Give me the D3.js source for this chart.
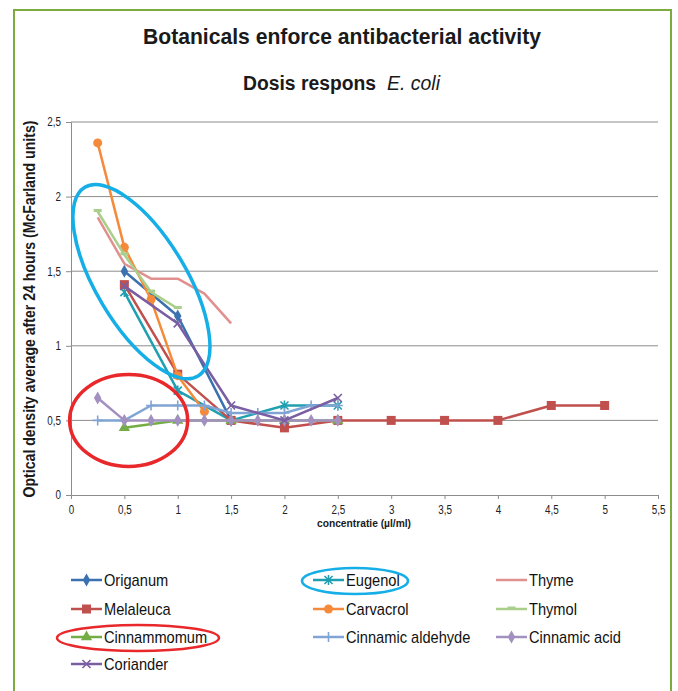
<!DOCTYPE html>
<html>
<head>
<meta charset="utf-8">
<script src="https://cdn.jsdelivr.net/npm/d3@7"></script>
<style>
  body { margin: 0; background: #fff; }
  svg { display: block; font-family: "Liberation Sans", Arial, sans-serif; }
</style>
</head>
<body>
<svg width="678" height="691"></svg>
<script>
// Chart values
const xTicks = [0, 0.5, 1, 1.5, 2, 2.5, 3, 3.5, 4, 4.5, 5, 5.5];
const yTicks = [0, 0.5, 1, 1.5, 2, 2.5];

const origanum = [[0.5, 1.5], [1, 1.2], [1.5, 0.5]];
const eugenol = [[0.5, 1.36], [1, 0.7], [1.5, 0.5], [2, 0.6], [2.5, 0.6]];
const thyme = [[0.25, 1.86], [0.5, 1.55], [0.75, 1.45], [1, 1.45], [1.25, 1.35], [1.5, 1.15]];
const melaleuca = [[0.5, 1.41], [1, 0.81], [1.5, 0.5], [2, 0.45], [2.5, 0.5], [3, 0.5], [3.5, 0.5], [4, 0.5], [4.5, 0.6], [5, 0.6]];
const carvacrol = [[0.25, 2.36], [0.5, 1.66], [0.75, 1.31], [1, 0.8], [1.25, 0.56]];
const thymol = [[0.25, 1.9], [0.5, 1.61], [0.75, 1.36], [1, 1.25]];
const cinnammomum = [[0.5, 0.45], [1, 0.5], [1.5, 0.5], [2, 0.5], [2.5, 0.5]];
const cinnamicAldehyde = [[0.25, 0.5], [0.5, 0.5], [0.75, 0.6], [1, 0.6], [1.25, 0.6], [1.5, 0.55], [1.75, 0.55], [2, 0.55], [2.25, 0.6], [2.5, 0.6]];
const cinnamicAcid = [[0.25, 0.65], [0.5, 0.5], [0.75, 0.5], [1, 0.5], [1.25, 0.5], [1.5, 0.5], [1.75, 0.5], [2, 0.5], [2.25, 0.5], [2.5, 0.5]];
const coriander = [[0.5, 1.4], [1, 1.15], [1.5, 0.6], [2, 0.5], [2.5, 0.65]];

const seriesNames = ["Origanum", "Eugenol", "Thyme", "Melaleuca", "Carvacrol", "Thymol",
                     "Cinnammomum", "Cinnamic aldehyde", "Cinnamic acid", "Coriander"];
const seriesData = [origanum, eugenol, thyme, melaleuca, carvacrol, thymol,
                    cinnammomum, cinnamicAldehyde, cinnamicAcid, coriander];
const seriesColors = ["#3a71ae", "#1f9fb0", "#e0908f", "#c0504d", "#f58a3a", "#a9cf8a",
                      "#74ac45", "#80a5d4", "#a290c0", "#7a5ea2"];
const seriesMarkers = ["diamond", "star", "none", "square", "circle", "dash",
                       "triangle", "plus", "diamond", "x"];

const svg = d3.select("svg"),
      width = +svg.attr("width"),
      height = +svg.attr("height");

// squeeze text horizontally so it looks like the condensed face of the original
function condense(sel, factor) {
  sel.each(function () {
    const w = this.getComputedTextLength();
    d3.select(this).attr("textLength", w * factor).attr("lengthAdjust", "spacingAndGlyphs");
  });
}

// green frame
svg.append("rect")
  .attr("x", 14).attr("y", 10)
  .attr("width", 657).attr("height", 700)
  .attr("fill", "none")
  .attr("stroke", "#7eab3f")
  .attr("stroke-width", 2);

// titles
svg.append("text")
  .attr("x", 342).attr("y", 44)
  .attr("text-anchor", "middle")
  .attr("font-size", "22px")
  .attr("font-weight", "bold")
  .attr("fill", "#1a1a1a")
  .attr("textLength", 398).attr("lengthAdjust", "spacingAndGlyphs")
  .text("Botanicals enforce antibacterial activity");

svg.append("text")
  .attr("x", 243).attr("y", 90)
  .attr("font-size", "20px")
  .attr("font-weight", "bold")
  .attr("fill", "#1a1a1a")
  .attr("textLength", 133).attr("lengthAdjust", "spacingAndGlyphs")
  .text("Dosis respons");

svg.append("text")
  .attr("x", 387).attr("y", 90)
  .attr("font-size", "20px")
  .attr("font-style", "italic")
  .attr("fill", "#1a1a1a")
  .attr("textLength", 53).attr("lengthAdjust", "spacingAndGlyphs")
  .text("E. coli");

const x = d3.scaleLinear().domain([0, 5.5]).range([71, 658]);
const y = d3.scaleLinear().domain([0, 2.5]).range([495, 122]);

// gridlines
svg.append("g")
  .selectAll("line")
  .data(yTicks.filter(d => d > 0))
  .join("line")
  .attr("x1", x(0)).attr("x2", x(5.5))
  .attr("y1", d => y(d)).attr("y2", d => y(d))
  .attr("stroke", "#8c8c8c")
  .attr("stroke-width", 1);

// axes
const xAxis = svg.append("g")
  .attr("transform", `translate(0,${y(0)})`)
  .call(d3.axisBottom(x).tickValues(xTicks).tickSize(4).tickPadding(6)
    .tickFormat(d => String(d).replace(".", ",")));

const yAxis = svg.append("g")
  .attr("transform", `translate(${x(0)},0)`)
  .call(d3.axisLeft(y).tickValues(yTicks).tickSize(5).tickPadding(5)
    .tickFormat(d => String(d).replace(".", ",")));

[xAxis, yAxis].forEach(a => {
  a.select(".domain").attr("stroke", "#8c8c8c");
  a.selectAll(".tick line").attr("stroke", "#8c8c8c");
  a.selectAll("text").attr("font-size", "12px").attr("fill", "#222")
    .attr("font-family", "\"Liberation Sans\", Arial, sans-serif");
  condense(a.selectAll("text"), 0.82);
});

// axis labels
svg.append("text")
  .attr("x", 364).attr("y", 527)
  .attr("text-anchor", "middle")
  .attr("font-size", "11px")
  .attr("font-weight", "bold")
  .attr("fill", "#1a1a1a")
  .attr("textLength", 94).attr("lengthAdjust", "spacingAndGlyphs")
  .text("concentratie (µl/ml)");

svg.append("text")
  .attr("transform", "rotate(-90)")
  .attr("x", -309).attr("y", 35)
  .attr("text-anchor", "middle")
  .attr("font-size", "16px")
  .attr("font-weight", "bold")
  .attr("fill", "#1a1a1a")
  .attr("textLength", 377).attr("lengthAdjust", "spacingAndGlyphs")
  .text("Optical density average after 24 hours (McFarland units)");

// marker drawing
function drawMarker(g, type, color) {
  if (type === "diamond") {
    g.append("path").attr("d", d3.symbol(d3.symbolDiamond, 48)()).attr("fill", color);
  } else if (type === "square") {
    g.append("rect").attr("x", -4.5).attr("y", -4.5).attr("width", 9).attr("height", 9).attr("fill", color);
  } else if (type === "circle") {
    g.append("circle").attr("r", 4.5).attr("fill", color);
  } else if (type === "triangle") {
    g.append("path").attr("d", d3.symbol(d3.symbolTriangle, 55)()).attr("fill", color);
  } else if (type === "x") {
    g.append("path").attr("d", "M-4,-4L4,4M-4,4L4,-4").attr("stroke", color).attr("stroke-width", 1.6);
  } else if (type === "star") {
    g.append("path").attr("d", "M-4,-4L4,4M-4,4L4,-4M0,-5L0,5").attr("stroke", color).attr("stroke-width", 1.6);
  } else if (type === "plus") {
    g.append("path").attr("d", "M-5,0L5,0M0,-5L0,5").attr("stroke", color).attr("stroke-width", 1.6);
  } else if (type === "dash") {
    g.append("rect").attr("x", -4).attr("y", -2.5).attr("width", 8).attr("height", 3).attr("fill", color);
  }
}

const line = d3.line().x(d => x(d[0])).y(d => y(d[1]));

seriesData.forEach((data, i) => {
  const g = svg.append("g");
  g.append("path")
    .datum(data)
    .attr("d", line)
    .attr("fill", "none")
    .attr("stroke", seriesColors[i])
    .attr("stroke-width", 2.5)
    .attr("stroke-linejoin", "round");
  g.selectAll("g.pt")
    .data(data)
    .join("g")
    .attr("class", "pt")
    .attr("transform", d => `translate(${x(d[0])},${y(d[1])})`)
    .each(function () { drawMarker(d3.select(this), seriesMarkers[i], seriesColors[i]); });
});

// annotation ellipses in the plot (centres in data units)
const plotRings = [
  { cx: 0.66, cy: 1.43, rx: 110, ry: 45, angle: 59, color: "#16aee6" },
  { cx: 0.54, cy: 0.5, rx: 59, ry: 46, angle: 0, color: "#e8282b" }
];
svg.append("g")
  .selectAll("ellipse")
  .data(plotRings)
  .join("ellipse")
  .attr("transform", d => `translate(${x(d.cx)},${y(d.cy)}) rotate(${d.angle})`)
  .attr("rx", d => d.rx).attr("ry", d => d.ry)
  .attr("fill", "none")
  .attr("stroke", d => d.color)
  .attr("stroke-width", 3.5);

// legend
const legendCols = [71, 313, 496];
const legendRows = [580, 609, 637, 664];
const legend = svg.append("g");
seriesNames.forEach((name, i) => {
  const lx = legendCols[i % 3], ly = legendRows[Math.floor(i / 3)];
  const item = legend.append("g").attr("transform", `translate(${lx},${ly})`);
  item.append("line")
    .attr("x1", 0).attr("x2", 31)
    .attr("stroke", seriesColors[i]).attr("stroke-width", 2.5);
  drawMarker(item.append("g").attr("transform", "translate(15.5,0)"), seriesMarkers[i], seriesColors[i]);
  const t = item.append("text")
    .attr("x", 33).attr("y", 6)
    .attr("font-size", "17px")
    .attr("fill", "#111")
    .text(name);
  condense(t, 0.86);
});

// legend rings
const legendRings = [
  { i: 1, dx: 42, rx: 53, ry: 13, color: "#16aee6" },
  { i: 6, dx: 67, rx: 81, ry: 13, color: "#e8282b" }
];
legend.selectAll("ellipse")
  .data(legendRings)
  .join("ellipse")
  .attr("cx", d => legendCols[d.i % 3] + d.dx)
  .attr("cy", d => legendRows[Math.floor(d.i / 3)] + 1)
  .attr("rx", d => d.rx).attr("ry", d => d.ry)
  .attr("fill", "none")
  .attr("stroke", d => d.color)
  .attr("stroke-width", 2.5);
</script>
</body>
</html>
